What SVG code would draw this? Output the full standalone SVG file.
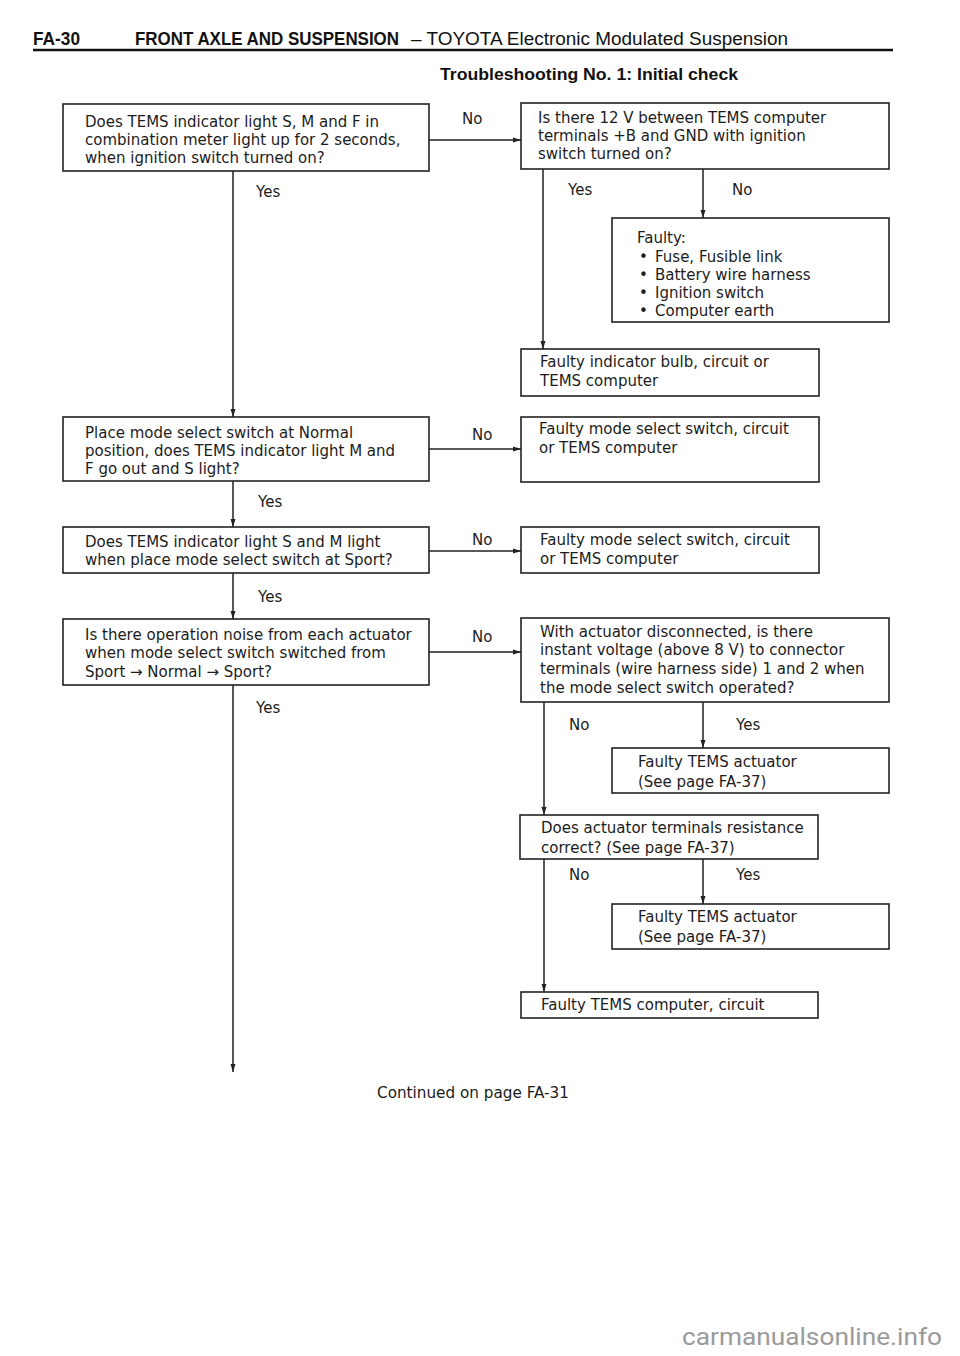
<svg xmlns="http://www.w3.org/2000/svg" width="960" height="1356" viewBox="0 0 960 1356">
<style>
.t{font-family:"DejaVu Sans","Liberation Sans",sans-serif;font-size:15px;fill:#1c1c1c}
.box{fill:#fff;stroke:#222;stroke-width:1.6}
.c{stroke:#222;stroke-width:1.5;fill:none}
.h{font-family:"Liberation Sans",Arial,sans-serif;fill:#111}
</style>
<defs>
<marker id="a" markerUnits="userSpaceOnUse" markerWidth="8" markerHeight="6" refX="8" refY="3" orient="auto">
<path d="M0,0.5 L8,3 L0,5.5 z" fill="#222"/>
</marker>
</defs>
<rect width="960" height="1356" fill="#fff"/>
<g id="header">
<text class="h" x="33" y="45" font-size="18" font-weight="bold" textLength="47" lengthAdjust="spacingAndGlyphs">FA-30</text>
<text class="h" x="135" y="45" font-size="18" font-weight="bold" textLength="264" lengthAdjust="spacingAndGlyphs">FRONT AXLE AND SUSPENSION</text>
<text class="h" x="411" y="45" font-size="18" textLength="377" lengthAdjust="spacingAndGlyphs">–  TOYOTA Electronic Modulated Suspension</text>
<line x1="33" y1="50" x2="893" y2="50" stroke="#111" stroke-width="2.5"/>
<text class="h" x="440" y="80" font-size="16" font-weight="bold" textLength="298" lengthAdjust="spacingAndGlyphs">Troubleshooting No. 1:  Initial check</text>
</g>
<g id="connectors">
<line class="c" x1="429" y1="140" x2="521" y2="140" marker-end="url(#a)"/>
<line class="c" x1="233" y1="171" x2="233" y2="417" marker-end="url(#a)"/>
<line class="c" x1="543" y1="169" x2="543" y2="349" marker-end="url(#a)"/>
<line class="c" x1="703" y1="169" x2="703" y2="218" marker-end="url(#a)"/>
<line class="c" x1="429" y1="449" x2="521" y2="449" marker-end="url(#a)"/>
<line class="c" x1="233" y1="481" x2="233" y2="527" marker-end="url(#a)"/>
<line class="c" x1="429" y1="551" x2="521" y2="551" marker-end="url(#a)"/>
<line class="c" x1="233" y1="573" x2="233" y2="619" marker-end="url(#a)"/>
<line class="c" x1="429" y1="652" x2="521" y2="652" marker-end="url(#a)"/>
<line class="c" x1="233" y1="685" x2="233" y2="1072" marker-end="url(#a)"/>
<line class="c" x1="544" y1="702" x2="544" y2="815" marker-end="url(#a)"/>
<line class="c" x1="703" y1="702" x2="703" y2="748" marker-end="url(#a)"/>
<line class="c" x1="703" y1="859" x2="703" y2="904" marker-end="url(#a)"/>
<line class="c" x1="544" y1="859" x2="544" y2="992" marker-end="url(#a)"/>
<text class="t" x="462" y="124">No</text>
<text class="t" x="256" y="197">Yes</text>
<text class="t" x="568" y="195">Yes</text>
<text class="t" x="732" y="195">No</text>
<text class="t" x="472" y="440">No</text>
<text class="t" x="258" y="507">Yes</text>
<text class="t" x="472" y="545">No</text>
<text class="t" x="258" y="602">Yes</text>
<text class="t" x="472" y="642">No</text>
<text class="t" x="256" y="713">Yes</text>
<text class="t" x="569" y="730">No</text>
<text class="t" x="736" y="730">Yes</text>
<text class="t" x="569" y="880">No</text>
<text class="t" x="736" y="880">Yes</text>
</g>
<g id="q1">
<rect class="box" x="63" y="104" width="366" height="67"/>
<text class="t" x="85" y="127">Does TEMS indicator light S, M and F in</text>
<text class="t" x="85" y="145">combination meter light up for 2 seconds,</text>
<text class="t" x="85" y="163">when ignition switch turned on?</text>
</g>
<g id="q2">
<rect class="box" x="521" y="103" width="368" height="66"/>
<text class="t" x="538" y="123">Is there 12 V between TEMS computer</text>
<text class="t" x="538" y="141">terminals +B and GND with ignition</text>
<text class="t" x="538" y="159">switch turned on?</text>
</g>
<g id="faulty-power">
<rect class="box" x="612" y="218" width="277" height="104"/>
<text class="t" x="637" y="243">Faulty:</text>
<text class="t" x="639" y="262">•</text>
<text class="t" x="655" y="262">Fuse, Fusible link</text>
<text class="t" x="639" y="280">•</text>
<text class="t" x="655" y="280">Battery wire harness</text>
<text class="t" x="639" y="298">•</text>
<text class="t" x="655" y="298">Ignition switch</text>
<text class="t" x="639" y="316">•</text>
<text class="t" x="655" y="316">Computer earth</text>
</g>
<g id="faulty-bulb">
<rect class="box" x="521" y="349" width="298" height="47"/>
<text class="t" x="540" y="367">Faulty indicator bulb, circuit or</text>
<text class="t" x="540" y="386">TEMS computer</text>
</g>
<g id="q3">
<rect class="box" x="63" y="417" width="366" height="64"/>
<text class="t" x="85" y="438">Place mode select switch at Normal</text>
<text class="t" x="85" y="456">position, does TEMS indicator light M and</text>
<text class="t" x="85" y="474">F go out and S light?</text>
</g>
<g id="faulty-mode-1">
<rect class="box" x="521" y="417" width="298" height="65"/>
<text class="t" x="539" y="434">Faulty mode select switch, circuit</text>
<text class="t" x="539" y="453">or TEMS computer</text>
</g>
<g id="q4">
<rect class="box" x="63" y="527" width="366" height="46"/>
<text class="t" x="85" y="547">Does TEMS indicator light S and M light</text>
<text class="t" x="85" y="565">when place mode select switch at Sport?</text>
</g>
<g id="faulty-mode-2">
<rect class="box" x="521" y="527" width="298" height="46"/>
<text class="t" x="540" y="545">Faulty mode select switch, circuit</text>
<text class="t" x="540" y="564">or TEMS computer</text>
</g>
<g id="q5">
<rect class="box" x="63" y="619" width="366" height="66"/>
<text class="t" x="85" y="640">Is there operation noise from each actuator</text>
<text class="t" x="85" y="658">when mode select switch switched from</text>
<text class="t" x="85" y="677">Sport → Normal → Sport?</text>
</g>
<g id="q6">
<rect class="box" x="521" y="618" width="368" height="84"/>
<text class="t" x="540" y="637">With actuator disconnected, is there</text>
<text class="t" x="540" y="655">instant voltage (above 8 V) to connector</text>
<text class="t" x="540" y="674">terminals (wire harness side) 1 and 2 when</text>
<text class="t" x="540" y="693">the mode select switch operated?</text>
</g>
<g id="faulty-actuator-1">
<rect class="box" x="612" y="748" width="277" height="45"/>
<text class="t" x="638" y="767">Faulty TEMS actuator</text>
<text class="t" x="638" y="787">(See page FA-37)</text>
</g>
<g id="q7">
<rect class="box" x="520" y="815" width="298" height="44"/>
<text class="t" x="541" y="833">Does actuator terminals resistance</text>
<text class="t" x="541" y="853">correct? (See page FA-37)</text>
</g>
<g id="faulty-actuator-2">
<rect class="box" x="612" y="904" width="277" height="45"/>
<text class="t" x="638" y="922">Faulty TEMS actuator</text>
<text class="t" x="638" y="942">(See page FA-37)</text>
</g>
<g id="faulty-computer">
<rect class="box" x="521" y="992" width="297" height="26"/>
<text class="t" x="541" y="1010">Faulty TEMS computer, circuit</text>
</g>
<text class="t" x="377" y="1098" textLength="192" lengthAdjust="spacingAndGlyphs">Continued on page FA-31</text>
<text x="682" y="1345" font-family="Roboto,'Liberation Sans',sans-serif" font-size="23" fill="#9a9a9a" textLength="260" lengthAdjust="spacingAndGlyphs">carmanualsonline.info</text>
</svg>
